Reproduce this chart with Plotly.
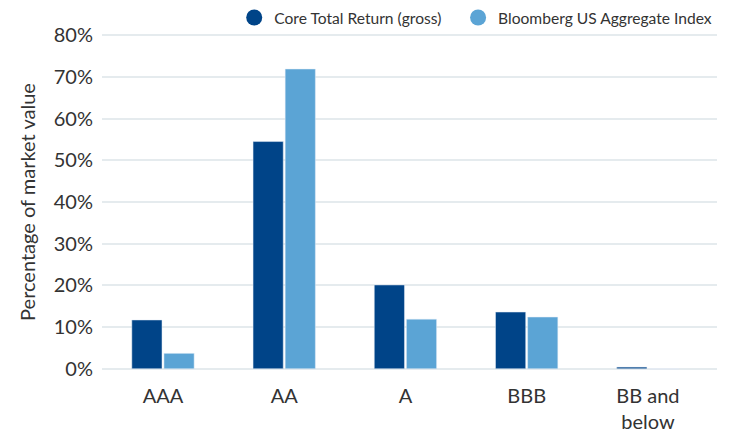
import plotly.graph_objects as go

categories = ["AAA", "AA", "A", "BBB", "BB and<br>below"]
core_values = [11.7, 54.5, 20.1, 13.6, 0.4]
agg_values = [3.7, 71.9, 11.9, 12.4, 0.0]
series_names = ["Core Total Return (gross)", "Bloomberg US Aggregate Index"]
y_ticks = [0, 10, 20, 30, 40, 50, 60, 70, 80]
y_ticktext = [f"{v}%" for v in y_ticks]

dark = "#004488"
light = "#5ba4d5"
FONT = "Lato, 'Open Sans', sans-serif"

fig = go.Figure()
fig.add_trace(go.Bar(x=categories, y=core_values, marker_color=dark, showlegend=False, name=series_names[0]))
fig.add_trace(go.Bar(x=categories, y=agg_values, marker_color=light, showlegend=False, name=series_names[1]))
# legend entries with circle markers (two separate legends for exact placement)
for nm, col, lg in zip(series_names, [dark, light], ["legend", "legend2"]):
    fig.add_trace(go.Scatter(x=[None], y=[None], mode="markers", name=nm, legend=lg,
                             marker=dict(symbol="circle", size=16, color=col)))

legend_common = dict(orientation="h", y=1.048, yanchor="middle",
                     font=dict(size=15.6, color="#333333"), itemwidth=30,
                     bgcolor="rgba(0,0,0,0)")

fig.update_layout(
    width=731, height=434,
    margin=dict(l=102, r=14, t=34, b=64, autoexpand=False),
    paper_bgcolor="white", plot_bgcolor="white",
    font=dict(family=FONT, color="#333333"),
    barmode="group", bargap=0.47, bargroupgap=0.06,
    legend=dict(x=0.215, xanchor="left", **legend_common),
    legend2=dict(x=0.579, xanchor="left", **legend_common),
    xaxis=dict(type="category", range=[-0.503, 4.57], showgrid=False, zeroline=False,
               showline=False, ticks="", tickfont=dict(size=20, color="#333333"),
               ticklabelstandoff=12, automargin=False),
    yaxis=dict(range=[-0.3, 80.3], tickvals=y_ticks, ticktext=y_ticktext,
               showgrid=True, gridcolor="#e5ebee", gridwidth=2, zeroline=False,
               showline=False, ticks="", tickfont=dict(size=20, color="#333333"),
               ticklabelstandoff=8, automargin=False,
               title=dict(text="Percentage of market value", font=dict(size=20, color="#333333"),
                          standoff=12)),
)

fig.write_html("out.html", config={"displayModeBar": False},
               post_script="document.body.style.margin='0';")
